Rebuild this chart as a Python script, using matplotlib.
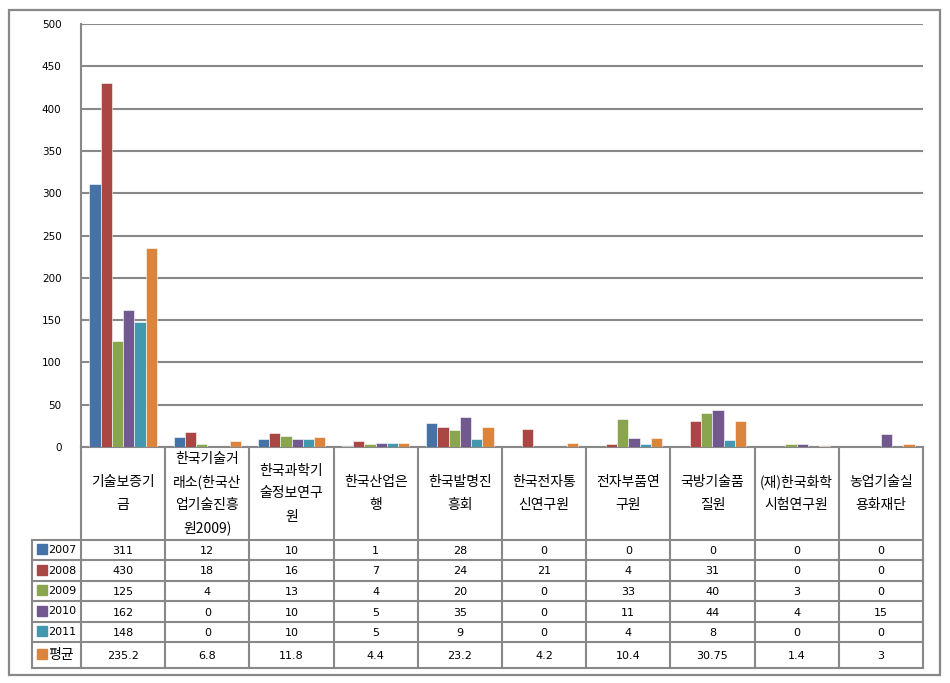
import matplotlib
matplotlib.use('Agg')
import matplotlib.pyplot as plt
from matplotlib.patches import Rectangle

plt.rcParams['font.family'] = ['DejaVu Sans', 'Noto Sans CJK KR']
kr_font = ['Noto Sans CJK KR', 'DejaVu Sans']

# ---------------- data ---------------- #
categories = ['기술보증기\n금', '한국기술거\n래소(한국산\n업기술진흥\n원2009)',
              '한국과학기\n술정보연구\n원', '한국산업은\n행', '한국발명진\n흥회',
              '한국전자통\n신연구원', '전자부품연\n구원', '국방기술품\n질원',
              '(재)한국화학\n시험연구원', '농업기술실\n용화재단']
series_names = ['2007', '2008', '2009', '2010', '2011', '평균']
v2007 = [311, 12, 10, 1, 28, 0, 0, 0, 0, 0]
v2008 = [430, 18, 16, 7, 24, 21, 4, 31, 0, 0]
v2009 = [125, 4, 13, 4, 20, 0, 33, 40, 3, 0]
v2010 = [162, 0, 10, 5, 35, 0, 11, 44, 4, 15]
v2011 = [148, 0, 10, 5, 9, 0, 4, 8, 0, 0]
vavg = [235.2, 6.8, 11.8, 4.4, 23.2, 4.2, 10.4, 30.75, 1.4, 3]
series = [v2007, v2008, v2009, v2010, v2011, vavg]
colors = ['#4572A7', '#AA4643', '#89A54E', '#71588F', '#4198AF', '#DB843D']
yticks = [0, 50, 100, 150, 200, 250, 300, 350, 400, 450, 500]

# ---------------- layout (pixels) ---------------- #
W, H = 950, 683
pl, pr, pt, pb = 81, 923, 24, 447
legL = 32
row_edges = [447, 540, 560, 581, 601, 622, 642, 668]
gray = '#888888'

fig = plt.figure(figsize=(W / 100, H / 100), dpi=100)

# overlay in pixel coordinates for frame and table
ov = fig.add_axes([0, 0, 1, 1])
ov.set_xlim(0, W)
ov.set_ylim(H, 0)
ov.axis('off')

ax = fig.add_axes([pl / W, 1 - pb / H, (pr - pl) / W, (pb - pt) / H])
n = len(categories)
bw = 1 / 7.5
for j, vals in enumerate(series):
    xs = [i + 0.1 + bw * (j + 0.5) for i in range(n)]
    ax.bar(xs, vals, width=bw, color=colors[j], edgecolor='white',
           linewidth=0.4, zorder=3)
ax.set_xlim(0, n)
ax.set_ylim(0, 500)
ax.set_yticks(yticks)
ax.set_yticklabels([str(t) for t in yticks], fontsize=7.5)
ax.tick_params(axis='y', length=0, pad=14)
ax.set_xticks([])
ax.yaxis.grid(True, color=gray, linewidth=1.5, zorder=0)
for s in ['top', 'right', 'bottom']:
    ax.spines[s].set_visible(False)
ax.spines['left'].set_color(gray)
ax.spines['left'].set_linewidth(1.5)
ax.patch.set_alpha(0)

# outer frame
ov.add_patch(Rectangle((9, 10), 931, 665, fill=False, edgecolor=gray,
                       linewidth=1.6))

# ---------------- data table ---------------- #
cw = (pr - pl) / n
lw = 1.5
for k in range(n + 1):
    x = pl + k * cw
    ov.plot([x, x], [row_edges[0], row_edges[-1]], color=gray, lw=lw)
ov.plot([legL, legL], [row_edges[1], row_edges[-1]], color=gray, lw=lw)
ov.plot([pl, pr], [row_edges[0], row_edges[0]], color=gray, lw=lw)
for y in row_edges[1:]:
    ov.plot([legL, pr], [y, y], color=gray, lw=lw)

# category labels
cy = (row_edges[0] + row_edges[1]) / 2
for i, lab in enumerate(categories):
    lines = lab.split('\n')
    xc = pl + (i + 0.5) * cw
    for k, line in enumerate(lines):
        yy = cy + (k - (len(lines) - 1) / 2) * 23
        ov.text(xc, yy, line, ha='center', va='center', fontsize=10,
                family=kr_font)

# value rows
for j, vals in enumerate(series):
    y0, y1 = row_edges[j + 1], row_edges[j + 2]
    ym = (y0 + y1) / 2
    ov.add_patch(Rectangle((legL + 5, ym - 6), 10, 10, color=colors[j]))
    if j == 5:
        ov.text(legL + 16, ym, series_names[j], ha='left', va='center',
                fontsize=10, family=kr_font)
    else:
        ov.text(legL + 16, ym, series_names[j], ha='left', va='center',
                fontsize=8)
    for i, v in enumerate(vals):
        xc = pl + (i + 0.5) * cw
        ov.text(xc, ym + 1, f'{v:g}', ha='center', va='center', fontsize=8)

fig.savefig('out.png', dpi=100)
